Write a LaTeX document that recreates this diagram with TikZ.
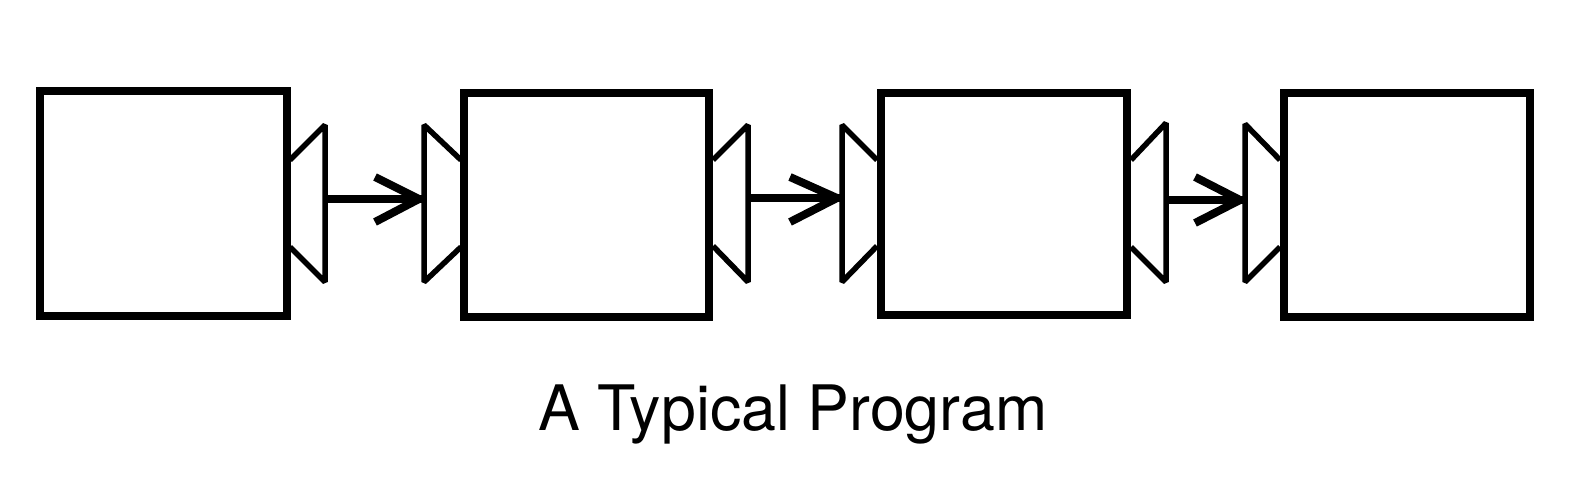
\documentclass[tikz,border=0pt]{standalone}
\usepackage{fontspec}
\setmainfont{TeX Gyre Heros}
\usetikzlibrary{calc}
\tikzset{
  blockbox/.style={draw=black, line width=8pt, inner sep=0pt, fill=white},
  plugline/.style={draw=black, line width=5.5pt, line cap=butt, line join=bevel},
  flowline/.style={draw=black, line width=8pt, line cap=butt},
  chevron/.style={draw=black, line width=8pt, line cap=butt, line join=bevel},
}
\begin{document}
\begin{tikzpicture}[x=1pt,y=-1pt]
\useasboundingbox (0,0) rectangle (1576,488);
% boxes
\node[blockbox, minimum width=247pt, minimum height=225pt] (b1) at (163.5,203.5) {};
\node[blockbox, minimum width=245pt, minimum height=224pt] (b2) at (586.5,204.5) {};
\node[blockbox, minimum width=246pt, minimum height=222pt] (b3) at (1003.5,203.5) {};
\node[blockbox, minimum width=246pt, minimum height=224pt] (b4) at (1407,204.5) {};
% plug coordinates
\coordinate (o1) at (325,199);
\coordinate (i2) at (424,199);
\coordinate (o2) at (748,198);
\coordinate (i3) at (842,198);
\coordinate (o3) at (1166,200);
\coordinate (i4) at (1245,200);
% plugs (connector 1)
\draw[plugline] (290,160) -- (325,125) -- (325,282) -- (290,247);
\draw[plugline] (461,160) -- (424,125) -- (424,282) -- (461,247);
% plugs (connector 2)
\draw[plugline] (713,160) -- (748,125) -- (748,282) -- (713,246);
\draw[plugline] (877,160) -- (842,125) -- (842,282) -- (877,246);
% plugs (connector 3)
\draw[plugline] (1131,160) -- (1166,123) -- (1166,282) -- (1131,247);
\draw[plugline] (1280,160) -- (1245,124) -- (1245,282) -- (1280,247);
% arrows
\draw[flowline] (o1) -- (i2);
\draw[chevron] ($(i2)+(-49,-22)$) -- ($(i2)+(-5,0)$) -- ($(i2)+(-49,23)$);
\draw[flowline] (o2) -- (i3);
\draw[chevron] ($(i3)+(-52,-21)$) -- ($(i3)+(-5,0)$) -- ($(i3)+(-52,24)$);
\draw[flowline] (o3) -- (i4);
\draw[chevron] ($(i4)+(-50,-23)$) -- ($(i4)+(-5,0)$) -- ($(i4)+(-50,23)$);
% caption
\node[anchor=base, inner sep=0pt, font=\fontsize{62.7pt}{70pt}\selectfont] (cap) at (793,430) {A Typical Program};
\end{tikzpicture}
\end{document}
